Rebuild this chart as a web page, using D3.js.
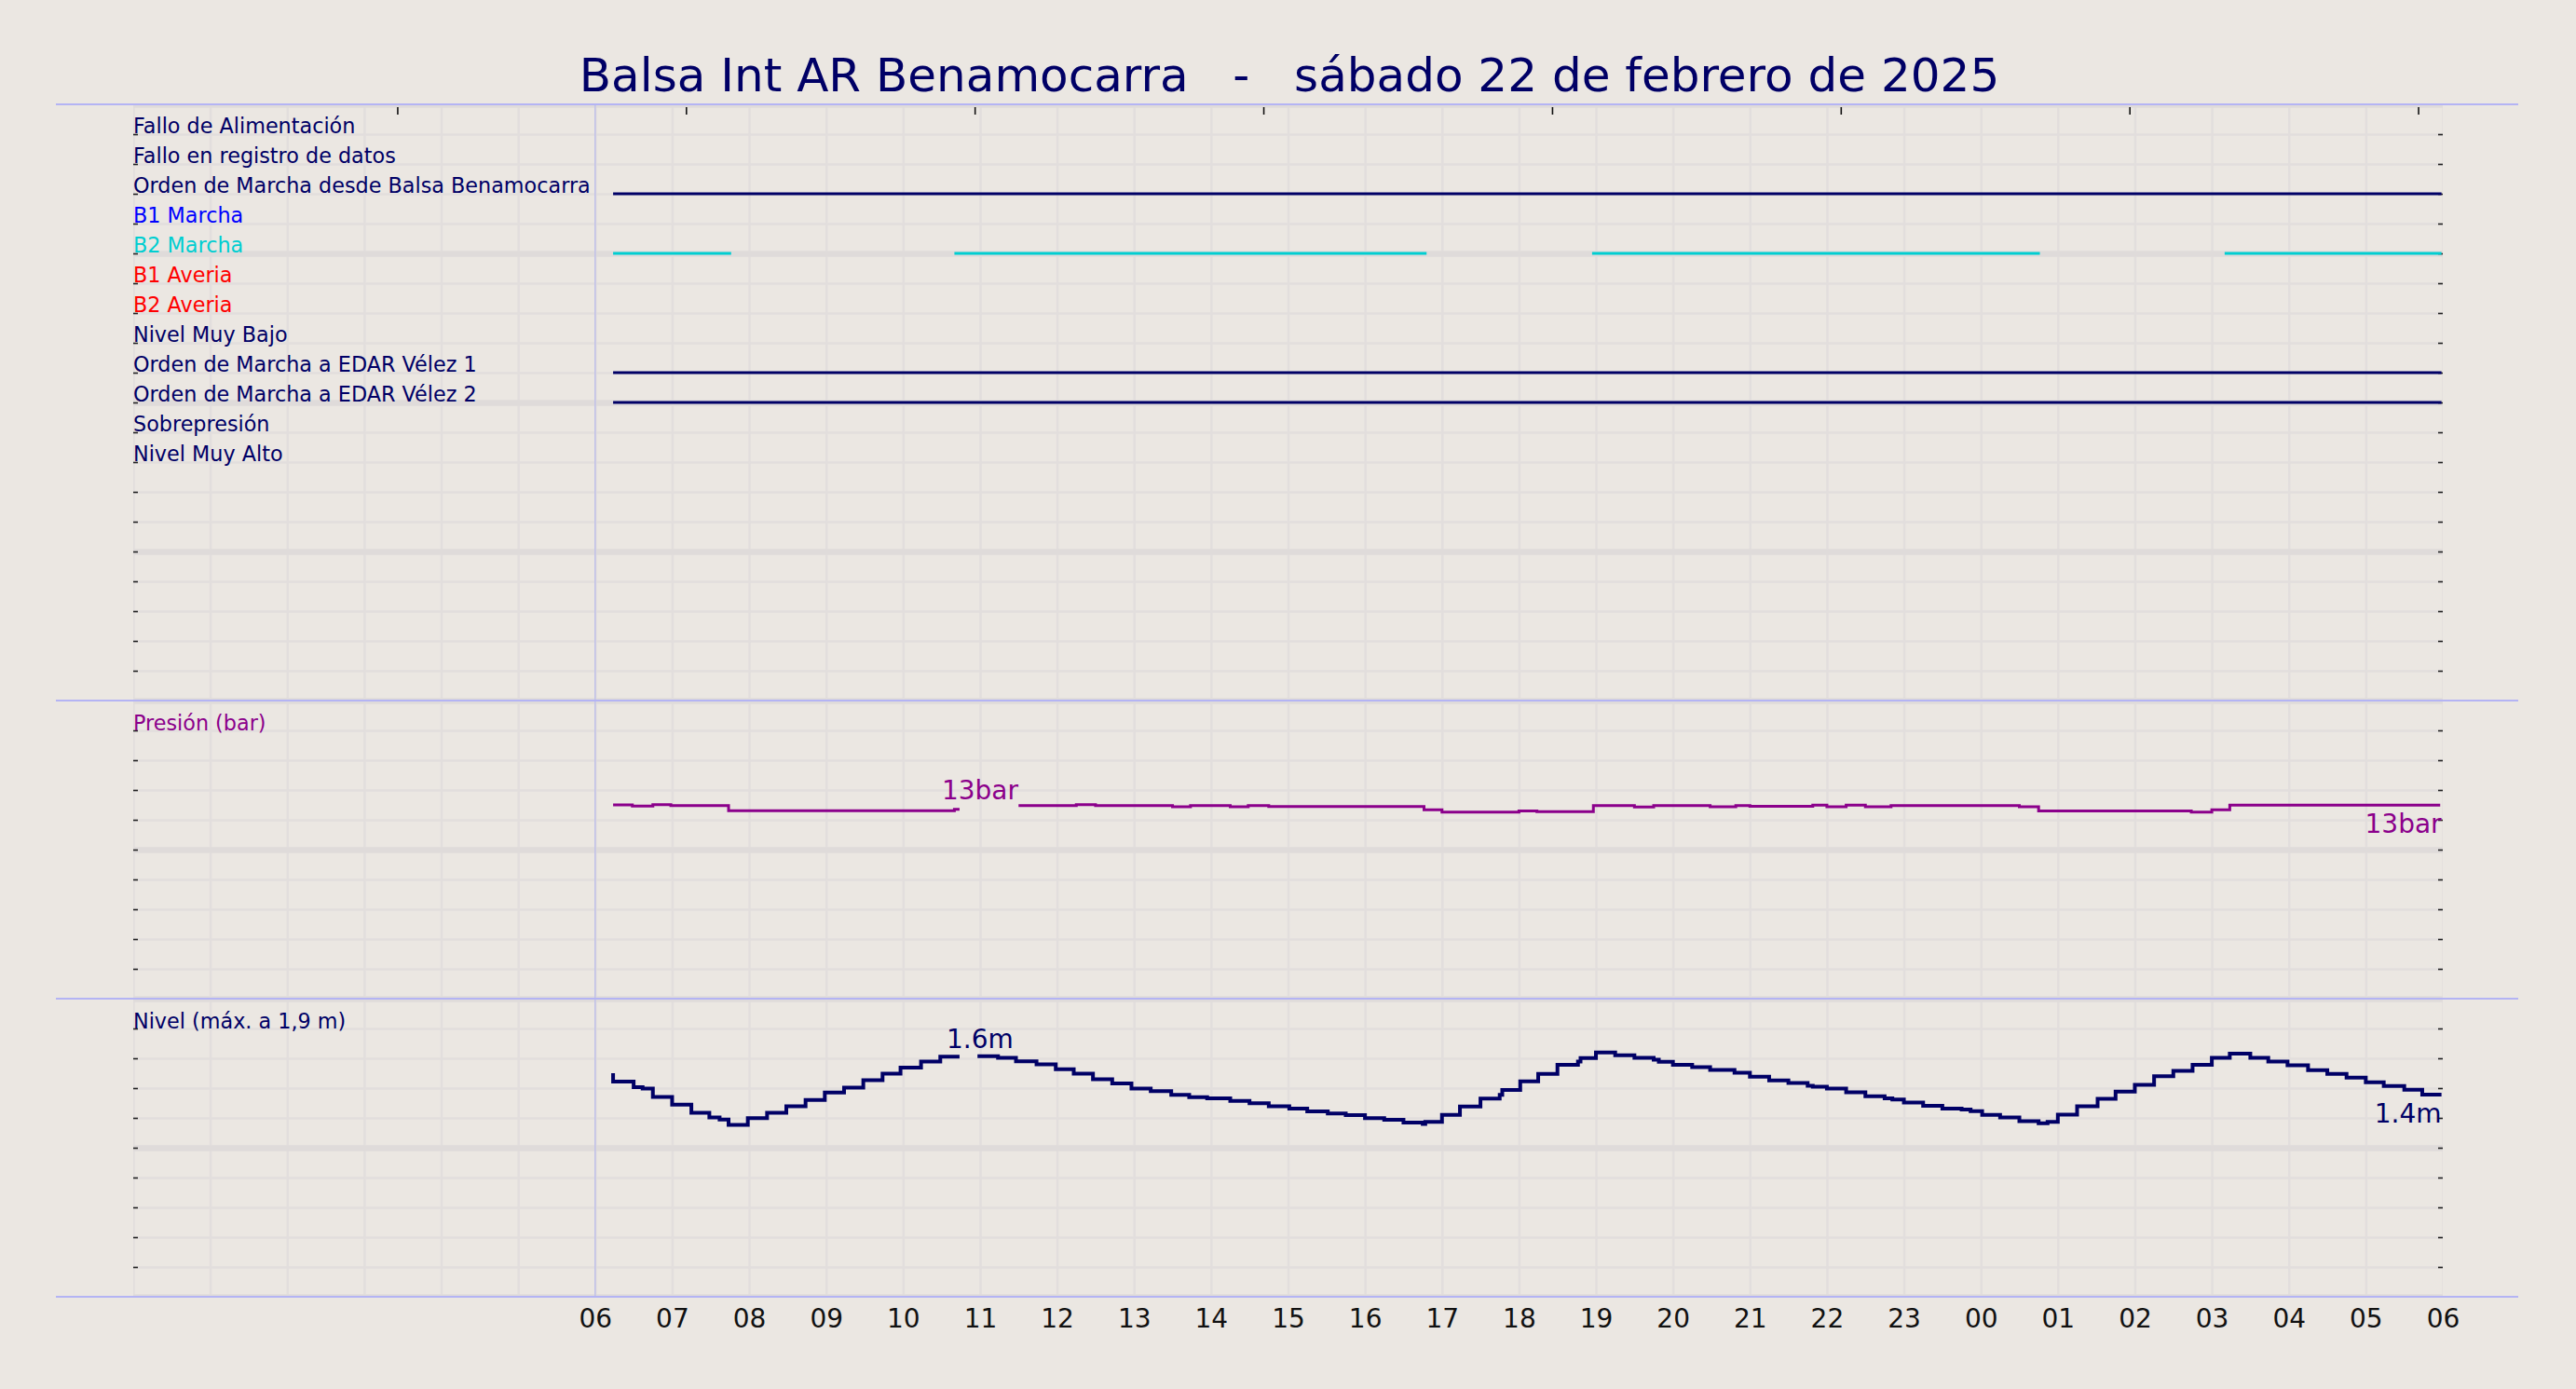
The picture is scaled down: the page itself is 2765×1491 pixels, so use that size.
<!DOCTYPE html>
<html>
<head>
<meta charset="utf-8">
<script src="https://cdn.jsdelivr.net/npm/d3@7"></script>
<style>
  html, body { margin: 0; padding: 0; background: #ebe7e2; }
  svg { display: block; font-family: "DejaVu Sans", sans-serif; }
</style>
</head>
<body>
<svg id="chart" width="2765" height="1491"></svg>
<script>
// ---------------- DATA ----------------
const chartTitle = "Balsa Int AR Benamocarra   -   sábado 22 de febrero de 2025";

const statusLabels = [
  "Fallo de Alimentación",
  "Fallo en registro de datos",
  "Orden de Marcha desde Balsa Benamocarra",
  "B1 Marcha",
  "B2 Marcha",
  "B1 Averia",
  "B2 Averia",
  "Nivel Muy Bajo",
  "Orden de Marcha a EDAR Vélez 1",
  "Orden de Marcha a EDAR Vélez 2",
  "Sobrepresión",
  "Nivel Muy Alto"
];
const statusLabelColors = ["#000066","#000066","#000066","#0000ff","#00ced1","#ff0000","#ff0000","#000066","#000066","#000066","#000066","#000066"];

// intervals when each signal is active (index into statusLabels)
const statusOn = [
  { row: 2, color: "#000066", spans: [["06:14","05:59"]] },
  { row: 4, color: "#00ced1", spans: [["06:14","07:46"],["10:40","16:48"],["18:57","00:46"],["03:10","05:59"]] },
  { row: 8, color: "#000066", spans: [["06:14","05:59"]] },
  { row: 9, color: "#000066", spans: [["06:14","05:59"]] }
];

// Pressure (bar), step-before samples; null = missing data
const pressure = [
  ["06:14",13.00],["06:29",13.00],["06:45",12.92],["06:59",13.02],["07:44",12.96],
  ["10:40",12.61],["10:44",12.70],["11:00",null],
  ["11:30",12.96],["12:15",12.96],["12:30",13.02],["13:30",12.96],["13:44",12.88],
  ["14:15",12.96],["14:29",12.88],["14:45",12.96],["16:46",12.89],["17:00",12.67],
  ["18:00",12.52],["18:14",12.60],["18:58",12.54],["19:30",12.96],["19:45",12.86],
  ["20:29",12.96],["20:49",12.88],["21:00",12.96],["21:49",12.90],["22:00",12.98],
  ["22:15",12.88],["22:30",12.98],["22:50",12.88],["00:30",12.96],["00:45",12.88],
  ["02:44",12.60],["03:00",12.52],["03:14",12.67],["05:58",12.98]
];

// Level (m), step-before samples; null = missing data
const level = [
  ["06:14",1.50],["06:30",1.443],["06:37",1.407],["06:45",1.397],["07:00",1.341],
  ["07:15",1.289],["07:29",1.234],["07:37",1.203],["07:44",1.189],["07:59",1.153],
  ["08:14",1.199],["08:29",1.234],["08:44",1.278],["08:59",1.320],["09:14",1.370],
  ["09:29",1.403],["09:44",1.453],["09:58",1.497],["10:14",1.537],["10:29",1.578],
  ["10:44",1.611],["10:50",null],
  ["10:58",1.614],["11:14",1.614],["11:28",1.603],["11:44",1.580],["11:59",1.559],
  ["12:13",1.526],["12:28",1.497],["12:43",1.459],["12:58",1.432],["13:13",1.397],
  ["13:29",1.380],["13:43",1.355],["13:57",1.339],["14:15",1.332],["14:30",1.314],
  ["14:45",1.299],["15:01",1.278],["15:15",1.262],["15:31",1.243],["15:45",1.230],
  ["16:00",1.218],["16:15",1.199],["16:30",1.187],["16:45",1.168],["16:47",1.160],
  ["17:00",1.174],["17:14",1.220],["17:30",1.276],["17:45",1.330],["17:47",1.355],
  ["18:01",1.387],["18:15",1.445],["18:30",1.495],["18:46",1.557],["18:48",1.578],
  ["19:00",1.601],["19:15",1.639],["19:30",1.620],["19:45",1.603],["19:49",1.591],
  ["20:00",1.576],["20:15",1.557],["20:29",1.541],["20:48",1.522],["21:00",1.503],
  ["21:15",1.476],["21:30",1.451],["21:45",1.434],["21:49",1.416],["22:00",1.409],
  ["22:15",1.397],["22:30",1.372],["22:45",1.345],["22:51",1.332],["23:00",1.324],
  ["23:15",1.303],["23:30",1.282],["23:45",1.262],["23:52",1.257],["00:01",1.245],
  ["00:15",1.220],["00:30",1.203],["00:45",1.178],["00:52",1.164],["01:00",1.174],
  ["01:15",1.222],["01:31",1.278],["01:45",1.328],["02:00",1.376],["02:15",1.422],
  ["02:30",1.480],["02:45",1.516],["03:00",1.557],["03:14",1.603],["03:30",1.632],
  ["03:44",1.603],["03:59",1.578],["04:15",1.553],["04:30",1.520],["04:45",1.495],
  ["05:00",1.470],["05:14",1.439],["05:30",1.414],["05:44",1.389],["05:59",1.357]
];

const pressureLabels = [
  { time: "11:00", value: 13.0, text: "13bar", pos: "above" },
  { time: "05:59", value: 12.98, text: "13bar", pos: "belowEnd" }
];
const levelLabels = [
  { time: "11:00", value: 1.61, text: "1.6m", pos: "above" },
  { time: "05:59", value: 1.357, text: "1.4m", pos: "belowEnd" }
];

const pressureTitle = "Presión (bar)";
const levelTitle = "Nivel (máx. a 1,9 m)";

const xTickLabels = ["06","07","08","09","10","11","12","13","14","15","16","17","18",
                     "19","20","21","22","23","00","01","02","03","04","05","06"];
const topTickHours = [3.43, 7.18, 10.93, 14.68, 18.43, 22.18, 25.93, 29.68];

// ---------------- LAYOUT / STYLE ----------------
const BG = "#ebe7e2", GRID = "#e2dedd", GRIDMAJ = "#dfdbda", NAVY = "#000066",
      PURPLE = "#8b008b", SEP = "#b4b4f4";
const X0 = 143, X1 = 2622;
const P1 = [112, 752], P2 = [752, 1072], P3 = [1072, 1392];
const LABEL_FS = 22.3;

const parseT = s => { const [h, m] = s.split(":").map(Number); let v = h + m / 60; if (h < 6) v += 24; return v; };

const svg = d3.select("#chart");
svg.append("rect").attr("width", 2765).attr("height", 1491).attr("fill", BG);

const x = d3.scaleLinear().domain([0, 30]).range([X0, X1]);
const yS = d3.scaleLinear().domain([0, 20]).range(P1);
const yP = d3.scaleLinear().domain([0, 20]).range([P2[1], P2[0]]);
const yL = d3.scaleLinear().domain([0, 2]).range([P3[1], P3[0]]);

const defs = svg.append("defs");
[P1, P2, P3].forEach((p, i) => {
  defs.append("clipPath").attr("id", "clip" + i)
    .append("rect").attr("x", X0).attr("y", p[0]).attr("width", X1 - X0).attr("height", p[1] - p[0]);
});

// grid for each panel
function drawGrid(i, yScale, minorVals, majorVals, p) {
  const g = svg.append("g").attr("clip-path", `url(#clip${i})`);
  const vx = g.append("g").attr("transform", `translate(0,${p[1]})`)
    .call(d3.axisBottom(x).tickValues(d3.range(0, 31)).tickSize(-(p[1] - p[0])).tickFormat(""));
  vx.select(".domain").remove();
  vx.selectAll("line").attr("stroke", GRID).attr("stroke-width", 2.5);
  const gy = g.append("g").attr("transform", `translate(${X0},0)`)
    .call(d3.axisLeft(yScale).tickValues(minorVals).tickSize(-(X1 - X0)).tickFormat(""));
  gy.select(".domain").remove();
  gy.selectAll("line").attr("stroke", GRID).attr("stroke-width", 2.5);
  const gm = g.append("g").attr("transform", `translate(${X0},0)`)
    .call(d3.axisLeft(yScale).tickValues(majorVals).tickSize(-(X1 - X0)).tickFormat(""));
  gm.select(".domain").remove();
  gm.selectAll("line").attr("stroke", GRIDMAJ).attr("stroke-width", 6.5);
  const inner = minorVals.concat(majorVals.filter(v => v !== yScale.domain()[0] && v !== yScale.domain()[1]));
  const tl = svg.append("g").attr("transform", `translate(${X0},0)`)
    .call(d3.axisLeft(yScale).tickValues(inner).tickSize(-5).tickFormat(""));
  tl.select(".domain").remove();
  tl.selectAll("line").attr("stroke", "#222").attr("stroke-width", 1.6);
  const tr = svg.append("g").attr("transform", `translate(${X1},0)`)
    .call(d3.axisRight(yScale).tickValues(inner).tickSize(-5).tickFormat(""));
  tr.select(".domain").remove();
  tr.selectAll("line").attr("stroke", "#222").attr("stroke-width", 1.6);
}
drawGrid(0, yS, d3.range(1, 20).filter(v => v % 5 !== 0), [0, 5, 10, 15, 20], P1);
drawGrid(1, yP, [2, 4, 6, 8, 12, 14, 16, 18], [0, 10, 20], P2);
drawGrid(2, yL, [0.2, 0.4, 0.6, 0.8, 1.2, 1.4, 1.6, 1.8], [0, 1, 2], P3);

// vertical reference line at start of day window
svg.append("line").attr("x1", x(6)).attr("x2", x(6)).attr("y1", P1[0]).attr("y2", P3[1])
  .attr("stroke", "#c2c2e8").attr("stroke-width", 1.6);

// separator lines
[P1[0], P2[0], P3[0], P3[1]].forEach(y => {
  svg.append("line").attr("x1", 60).attr("x2", 2703).attr("y1", y).attr("y2", y)
    .attr("stroke", SEP).attr("stroke-width", 2);
});

// top ticks
const tt = svg.append("g").attr("transform", `translate(0,${P1[0] + 3})`)
  .call(d3.axisBottom(x).tickValues(topTickHours).tickSize(8).tickFormat(""));
tt.select(".domain").remove();
tt.selectAll("line").attr("stroke", "#111").attr("stroke-width", 1.6);

// bottom axis labels
const bx = svg.append("g").attr("transform", `translate(0,${P3[1]})`)
  .call(d3.axisBottom(x).tickValues(d3.range(6, 31)).tickSize(0).tickPadding(13)
    .tickFormat((d, i) => xTickLabels[i]));
bx.select(".domain").remove();
bx.selectAll("text").attr("font-size", 28).attr("fill", "#111").attr("font-family", "DejaVu Sans");

// status labels
svg.append("g").selectAll("text").data(statusLabels).join("text")
  .attr("x", X0).attr("y", (d, i) => yS(i + 1) - 1)
  .attr("font-size", LABEL_FS).attr("fill", (d, i) => statusLabelColors[i]).text(d => d);

// status lines
statusOn.forEach(s => {
  svg.append("g").selectAll("line").data(s.spans).join("line")
    .attr("x1", d => x(parseT(d[0]))).attr("x2", d => x(parseT(d[1])))
    .attr("y1", yS(s.row + 1)).attr("y2", yS(s.row + 1))
    .attr("stroke", s.color).attr("stroke-width", 3.2);
});

// panel titles
svg.append("text").attr("x", X0).attr("y", yP(18)).attr("font-size", LABEL_FS).attr("fill", PURPLE).text(pressureTitle);
svg.append("text").attr("x", X0).attr("y", yL(1.8)).attr("font-size", LABEL_FS).attr("fill", NAVY).text(levelTitle);

// pressure line
const lineP = d3.line().defined(d => d[1] != null)
  .x(d => x(parseT(d[0]))).y(d => yP(d[1])).curve(d3.curveStepBefore);
svg.append("path").datum(pressure).attr("d", lineP).attr("fill", "none")
  .attr("stroke", PURPLE).attr("stroke-width", 3);

// level line
const lineL = d3.line().defined(d => d[1] != null)
  .x(d => x(parseT(d[0]))).y(d => yL(d[1])).curve(d3.curveStepBefore);
svg.append("path").datum(level).attr("d", lineL).attr("fill", "none")
  .attr("stroke", NAVY).attr("stroke-width", 4);

// value labels
function drawLabels(arr, yScale, color, offAbove) {
  svg.append("g").selectAll("text").data(arr).join("text")
    .attr("x", d => x(parseT(d.time)))
    .attr("y", d => d.pos === "belowEnd" ? yScale(d.value) + 30 : yScale(d.value) - offAbove)
    .attr("text-anchor", d => d.pos === "belowEnd" ? "end" : "middle")
    .attr("font-size", 28).attr("fill", color).text(d => d.text);
}
drawLabels(pressureLabels, yP, PURPLE, 6);
drawLabels(levelLabels, yL, NAVY, 9);

// title
svg.append("text").attr("x", 1384).attr("y", 98).attr("text-anchor", "middle")
  .attr("font-size", 50).attr("fill", NAVY).style("white-space", "pre")
  .attr("xml:space", "preserve").text(chartTitle);
</script>
</body>
</html>
